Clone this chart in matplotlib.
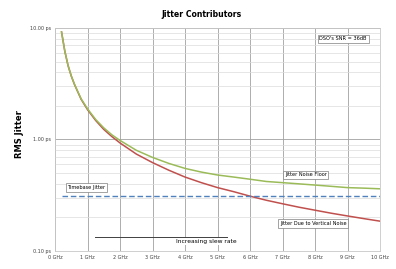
import matplotlib
matplotlib.use("Agg")
import matplotlib.pyplot as plt
from matplotlib.ticker import FixedLocator, NullFormatter

# Frequency (GHz) and jitter values (ps)
freq_ghz = [0.2, 0.3, 0.4, 0.5, 0.6, 0.8, 1.0, 1.25, 1.5, 1.75, 2.0, 2.5, 3.0, 3.5,
            4.0, 4.5, 5.0, 5.5, 6.0, 6.5, 7.0, 7.5, 8.0, 8.5, 9.0, 9.5, 10.0]
vertical_noise_jitter = [9.2, 6.2, 4.6, 3.7, 3.1, 2.3, 1.85, 1.48, 1.23, 1.06, 0.93, 0.74,
                         0.62, 0.53, 0.46, 0.41, 0.37, 0.34, 0.31, 0.285, 0.265, 0.247,
                         0.232, 0.218, 0.206, 0.195, 0.185]
noise_floor_jitter = [9.21, 6.21, 4.61, 3.71, 3.12, 2.32, 1.88, 1.51, 1.27, 1.10, 0.98, 0.80,
                      0.69, 0.61, 0.55, 0.51, 0.48, 0.46, 0.44, 0.42, 0.41, 0.40,
                      0.39, 0.38, 0.37, 0.366, 0.361]
timebase_jitter = 0.31

x_ticks = list(range(0, 11))
x_labels = [f"{v} GHz" for v in x_ticks]
y_ticks = [0.1, 1.0, 10.0]
y_labels = ["0.10 ps", "1.00 ps", "10.00 ps"]

fig = plt.figure(figsize=(3.96, 2.69), dpi=100)
ax = fig.add_axes([0.139, 0.067, 0.821, 0.829])

ax.set_yscale("log")
ax.set_xlim(0, 10)
ax.set_ylim(0.1, 10)

ax.plot(freq_ghz, vertical_noise_jitter, color="#c0504d", lw=1.1, zorder=3)
ax.plot(freq_ghz, noise_floor_jitter, color="#9bbb59", lw=1.1, zorder=4)
ax.plot([freq_ghz[0], freq_ghz[-1]], [timebase_jitter, timebase_jitter],
        color="#4f81bd", lw=1.0, ls=(0, (4, 2)), zorder=3)

ax.xaxis.set_major_locator(FixedLocator(x_ticks))
ax.set_xticklabels(x_labels)
ax.yaxis.set_major_locator(FixedLocator(y_ticks))
ax.set_yticklabels(y_labels)
minor = [m * d for d in (0.1, 1.0) for m in range(2, 10)]
ax.yaxis.set_minor_locator(FixedLocator(minor))
ax.yaxis.set_minor_formatter(NullFormatter())
ax.tick_params(axis="both", which="both", length=0, labelsize=3.5, colors="#404040", pad=3)

ax.grid(True, axis="x", color="#a0a0a0", lw=0.6)
ax.grid(True, axis="y", which="major", color="#a0a0a0", lw=0.6)
ax.grid(True, axis="y", which="minor", color="#dcdcdc", lw=0.5)
for s in ax.spines.values():
    s.set_color("#c8c8c8")
    s.set_linewidth(0.6)

fig.text(0.51, 0.945, "Jitter Contributors", ha="center", va="center",
         fontsize=5.6, fontweight="bold")
fig.text(0.05, 0.5, "RMS Jitter", ha="center", va="center", rotation=90,
         fontsize=6, fontweight="bold")

box = dict(boxstyle="square,pad=0.35", fc="white", ec="#7f7f7f", lw=0.5)
ax.text(8.86, 7.98, "DSO's SNR = 36dB", fontsize=3.6, ha="center", va="center", bbox=box)
ax.text(0.97, 0.37, "Timebase Jitter", fontsize=3.6, ha="center", va="center", bbox=box)
ax.text(7.71, 0.482, "Jitter Noise Floor", fontsize=3.6, ha="center", va="center", bbox=box)
ax.text(7.94, 0.176, "Jitter Due to Vertical Noise", fontsize=3.6, ha="center",
        va="center", bbox=box)

ax.plot([1.23, 5.3], [0.133, 0.133], color="#404040", lw=0.7, zorder=3)
ax.text(4.65, 0.122, "Increasing slew rate", fontsize=4.3, ha="center", va="center",
        bbox=dict(boxstyle="square,pad=0.2", fc="white", ec="none"), zorder=4)

fig.savefig("out.png", dpi=100)
